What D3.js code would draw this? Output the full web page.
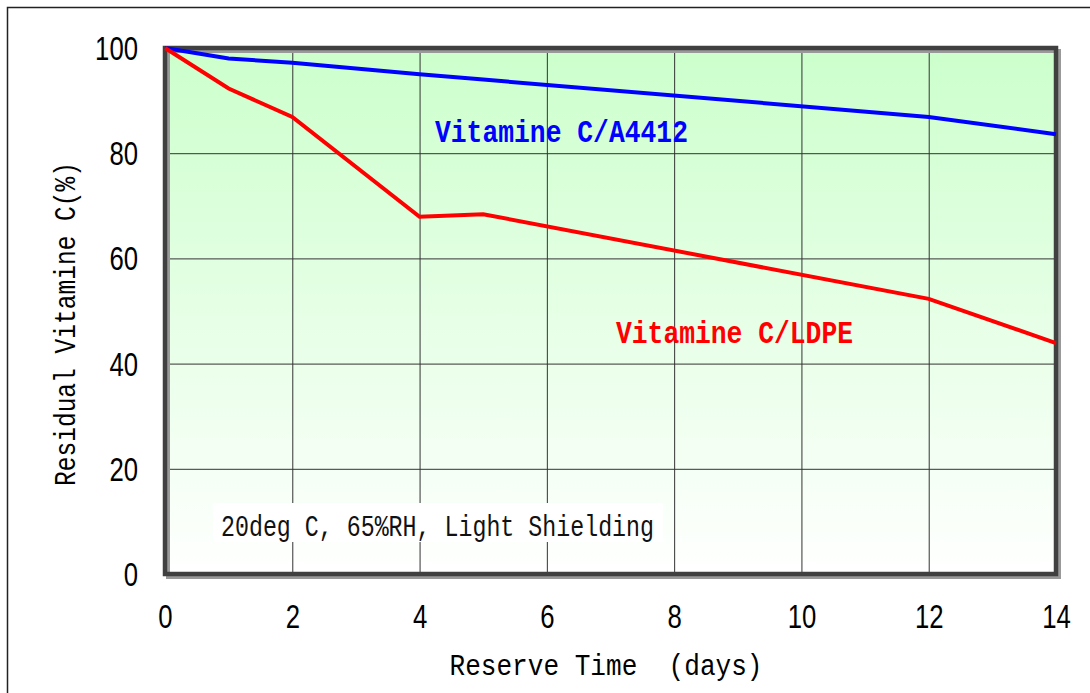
<!DOCTYPE html>
<html>
<head>
<meta charset="utf-8">
<script src="https://cdn.jsdelivr.net/npm/d3@7"></script>
<style>
body { margin: 0; background: #fff; }
svg { display: block; }
</style>
</head>
<body>
<script>
// reserve time in days
var days = [0, 1, 2, 4, 5, 12, 14]
// residual vitamin C (%) for each film
var a4412 = [100, 98.0, 97.2, 95.0, 94.0, 86.9, 83.6]
var ldpe = [100, 92.3, 86.9, 67.9, 68.4, 52.3, 43.9]
var xTicks = [0, 2, 4, 6, 8, 10, 12, 14]
var yTicks = [0, 20, 40, 60, 80, 100]

var screen = {width: 1090, height: 693}
var margins = {top: 48, bottom: 119, left: 165, right: 34}
var width = screen.width - margins.left - margins.right
var height = screen.height - margins.top - margins.bottom

var xScale = d3.scaleLinear().domain([0, 14]).range([0, width])
var yScale = d3.scaleLinear().domain([0, 100]).range([height, 0])

var mono = "'Liberation Mono', 'DejaVu Sans Mono', monospace"

var svg = d3.select("body")
    .append("svg")
    .attr("width", screen.width)
    .attr("height", screen.height)

// outer frame, runs off the right and bottom of the picture
svg.append("rect")
    .attr("x", 7.5).attr("y", 7.5)
    .attr("width", 1100).attr("height", 720)
    .attr("fill", "none")
    .attr("stroke", "#222")
    .attr("stroke-width", 1.5)

var grad = svg.append("defs").append("linearGradient")
    .attr("id", "bg").attr("x1", 0).attr("y1", 0).attr("x2", 0).attr("y2", 1)
grad.append("stop").attr("offset", "0%").attr("stop-color", "#ccffcc")
grad.append("stop").attr("offset", "100%").attr("stop-color", "#ffffff")

var plot = svg.append("g")
    .attr("transform", "translate(" + margins.left + "," + margins.top + ")")

plot.append("rect")
    .attr("width", width).attr("height", height)
    .attr("fill", "url(#bg)")

// grid
plot.append("g")
    .selectAll("line")
    .data(xTicks.slice(1, -1))
    .enter().append("line")
    .attr("x1", function(d) { return xScale(d) + 0.5 })
    .attr("x2", function(d) { return xScale(d) + 0.5 })
    .attr("y1", 0).attr("y2", height)
    .attr("stroke", "#333").attr("stroke-width", 1)

plot.append("g")
    .selectAll("line")
    .data(yTicks.slice(1, -1))
    .enter().append("line")
    .attr("y1", function(d) { return yScale(d) + 0.5 })
    .attr("y2", function(d) { return yScale(d) + 0.5 })
    .attr("x1", 0).attr("x2", width)
    .attr("stroke", "#333").attr("stroke-width", 1)

// annotation box
plot.append("rect")
    .attr("x", 48).attr("y", 455)
    .attr("width", 450).attr("height", 39)
    .attr("fill", "#fff")
plot.append("text")
    .attr("x", 56).attr("y", 488)
    .attr("font-family", mono)
    .attr("font-size", 30)
    .attr("textLength", 433)
    .attr("lengthAdjust", "spacingAndGlyphs")
    .attr("fill", "#111")
    .text("20deg C, 65%RH, Light Shielding")

// frame shadow + frame
plot.append("rect")
    .attr("x", 3).attr("y", 3)
    .attr("width", width).attr("height", height)
    .attr("fill", "none").attr("stroke", "#999").attr("stroke-width", 4)
plot.append("rect")
    .attr("width", width).attr("height", height)
    .attr("fill", "none").attr("stroke", "#404040").attr("stroke-width", 4.5)

// lines
var line = d3.line()
    .x(function(d, i) { return xScale(days[i]) })
    .y(function(d) { return yScale(d) })

plot.append("path")
    .datum(a4412)
    .attr("d", line)
    .attr("fill", "none").attr("stroke", "#0000ff").attr("stroke-width", 4)

plot.append("path")
    .datum(ldpe)
    .attr("d", line)
    .attr("fill", "none").attr("stroke", "#ff0000").attr("stroke-width", 4)

// series labels
plot.append("text")
    .attr("x", 270).attr("y", 94)
    .attr("font-family", mono)
    .attr("font-weight", "bold").attr("font-size", 31)
    .attr("textLength", 253)
    .attr("lengthAdjust", "spacingAndGlyphs")
    .attr("fill", "#0000ff")
    .text("Vitamine C/A4412")

plot.append("text")
    .attr("x", 451).attr("y", 295)
    .attr("font-family", mono)
    .attr("font-weight", "bold").attr("font-size", 31)
    .attr("textLength", 237)
    .attr("lengthAdjust", "spacingAndGlyphs")
    .attr("fill", "#ff0000")
    .text("Vitamine C/LDPE")

// axes
var xAxis = d3.axisBottom(xScale).tickValues(xTicks).tickSize(0).tickPadding(31)
var yAxis = d3.axisLeft(yScale).tickValues(yTicks).tickSize(0).tickPadding(27)

var gx = plot.append("g")
    .attr("transform", "translate(0," + height + ")")
    .call(xAxis)
var gy = plot.append("g").call(yAxis)

gx.select(".domain").remove()
gy.select(".domain").remove()
svg.selectAll(".tick text")
    .attr("font-family", "'Liberation Sans', sans-serif")
    .attr("font-size", 33)
    .attr("fill", "#000")
    .attr("lengthAdjust", "spacingAndGlyphs")
    .attr("textLength", function(d) { return String(d).length * 14.3 })
gy.selectAll(".tick text").attr("dy", "0.35em")

svg.append("text")
    .attr("x", 606).attr("y", 675)
    .attr("text-anchor", "middle")
    .attr("font-family", mono)
    .attr("font-size", 30)
    .attr("textLength", 313)
    .attr("lengthAdjust", "spacingAndGlyphs")
    .attr("xml:space", "preserve")
    .text("Reserve Time  (days)")

svg.append("text")
    .attr("transform", "translate(75,324) rotate(-90)")
    .attr("text-anchor", "middle")
    .attr("font-family", mono)
    .attr("font-size", 30)
    .attr("textLength", 324)
    .attr("lengthAdjust", "spacingAndGlyphs")
    .text("Residual Vitamine C(%)")
</script>
</body>
</html>
